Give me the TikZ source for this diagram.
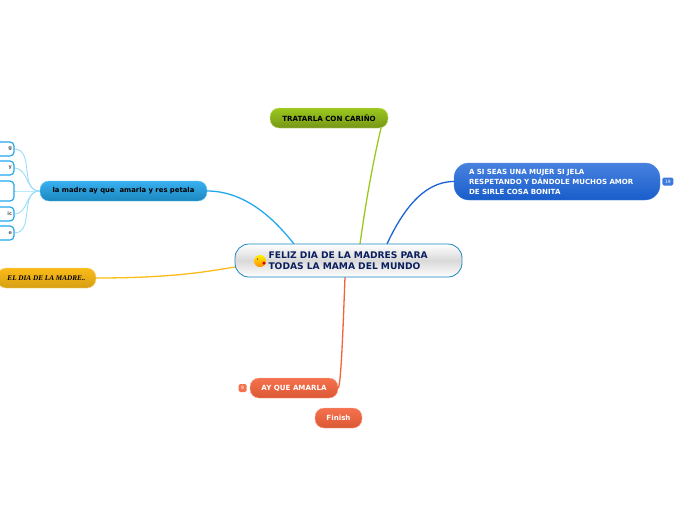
\documentclass[tikz,border=0pt]{standalone}
\usepackage{fontspec}
\setmainfont{DejaVu Sans}
\newfontfamily\madrefont{Liberation Serif}
\usetikzlibrary{
    positioning,
    arrows.meta,
}
\definecolor{linkblue}{HTML}{22A8EE}
\definecolor{sublink}{HTML}{9ADDFA}
\definecolor{linkgreen}{HTML}{9CC81E}
\definecolor{linkdeep}{HTML}{1A62D6}
\definecolor{linkorange}{HTML}{F4623A}
\definecolor{linkyellow}{HTML}{FBBB18}
\definecolor{feliznavy}{HTML}{0B1F5E}
\tikzset{
    % Basic node styles
    topic/.style={rectangle, rounded corners=9pt, inner sep=0pt, align=center, font=\bfseries\fontsize{7.1}{8}\selectfont},
    central topic/.style={topic, rounded corners=14pt, draw=linkblue!80!black, line width=0.8pt,
                          top color=white, bottom color=white, middle color=black!15,
                          minimum width=227pt, minimum height=33pt, text width=160pt, align=left,
                          text=feliznavy, font=\bfseries\fontsize{9.15}{11.5}\selectfont},
    green topic/.style={topic, draw=linkgreen!60, top color=linkgreen, bottom color=linkgreen!75!black,
                        minimum width=118pt, minimum height=20pt},
    deep topic/.style={topic, rounded corners=15pt, draw=linkdeep!80, top color=linkdeep!80, bottom color=linkdeep!95!black,
                       text=white, minimum width=206pt, minimum height=37pt, text width=176pt, align=left,
                       font=\bfseries\fontsize{7.05}{10}\selectfont},
    blue topic/.style={topic, draw=linkblue!70, top color=linkblue!90, bottom color=linkblue!80!black,
                       minimum width=167pt, minimum height=20pt, font=\bfseries\fontsize{6.85}{8}\selectfont},
    yellow topic/.style={topic, draw=linkyellow!55, top color=linkyellow, bottom color=linkyellow!85!black,
                         minimum width=99pt, minimum height=20pt,
                         font=\madrefont\bfseries\itshape\fontsize{7.2}{9}\selectfont},
    orange topic/.style={topic, draw=linkorange!55, top color=linkorange!90, bottom color=linkorange!90!black,
                         text=white, minimum height=20pt},
    sub topic/.style={rectangle, rounded corners=4pt, draw=linkblue, line width=1.2pt, fill=white,
                      minimum width=34pt, inner sep=0pt, align=right, font=\bfseries\fontsize{5}{6}\selectfont, text=black!65},
    badge/.style={rectangle, rounded corners=1.5pt, inner sep=0pt, text=white, font=\fontsize{4.5}{5}\selectfont},
    % Arrow styles
    link/.style={line width=1.3pt},
    sub link/.style={sublink, line width=0.9pt},
}

\begin{document}
\begin{tikzpicture}[x=1pt, y=-1pt]
    \useasboundingbox (0, 0) rectangle (696, 520);

    % Ends of the connectors
    \coordinate (inblue) at (294, 244);
    \coordinate (ingreen) at (360, 244);
    \coordinate (outgreen) at (381, 128);
    \coordinate (indeep) at (387, 244);
    \coordinate (inorange) at (345, 277);
    \coordinate (inyellow) at (235, 267);

    % Topics
    \node[green topic] (carino) at (329, 118) {TRATARLA CON CARIÑO};
    \node[deep topic] (mujer) at (557, 181.5)
        {A SI SEAS UNA MUJER SI JELA\\RESPETANDO Y DÁNDOLE MUCHOS AMOR\\DE SIRLE COSA BONITA};
    \node[blue topic] (petala) at (123.5, 191) {la madre ay que\ \ amarla y res petala};
    \node[yellow topic] (dia) at (46.5, 278) {EL DIA DE LA MADRE..};
    \node[orange topic, minimum width=88pt] (amarla) at (294, 388) {AY QUE AMARLA};
    \node[orange topic, minimum width=47pt] (finish) at (338.5, 418) {Finish};

    % Small boxes on the left
    \foreach \n/\y/\h/\c in {a/149/14/g, b/168/14/y, c/191/20/, d/214/14/ic, e/233/14/e} {
        \draw[sub link] (-3, \y) ++(17, 0) coordinate (out\n) to[out=0, in=180, looseness=1.1] (petala.west);
        \node[sub topic, minimum height=\h pt, text width=30pt] (sub\n) at (-3, \y) {\c};
    }

    % Badges
    \node[badge, fill=linkdeep!85, minimum width=11pt, minimum height=8pt, right=2pt of mujer.east] (badgemujer) {19};
    \node[badge, fill=linkorange!90, minimum width=8pt, minimum height=8pt, left=3pt of amarla.west] (badgeamarla) {9};

    % Connectors
    \draw[link, linkblue] (petala.east) to[out=0, in=128, looseness=0.9] (inblue);
    \draw[link, linkgreen] (outgreen) to[out=-103, in=82, looseness=0.9] (ingreen);
    \draw[link, linkdeep] (mujer.west) to[out=180, in=65, looseness=0.9] (indeep);
    \draw[link, linkyellow] (dia.east) .. controls (170, 278) and (205, 272) .. (inyellow);
    \draw[link, linkorange] (amarla.east) .. controls (341, 385) and (343, 330) .. (inorange);

    % Central topic
    \node[central topic] (feliz) at (348.5, 260.5)
        {FELIZ DIA DE LA MADRES PARA\\TODAS LA MAMA DEL MUNDO};
    \node[circle, top color=yellow!90!orange, bottom color=orange!90!yellow, minimum size=12pt, inner sep=0pt] (kiss) at (260, 261) {};
    \node[circle, fill=black!70, minimum size=1.5pt, inner sep=0pt] (eye) at (257.5, 259) {};
    \node[circle, fill=red!85!black, minimum size=3.5pt, inner sep=0pt] (lips) at (264, 263) {};
\end{tikzpicture}
\end{document}
